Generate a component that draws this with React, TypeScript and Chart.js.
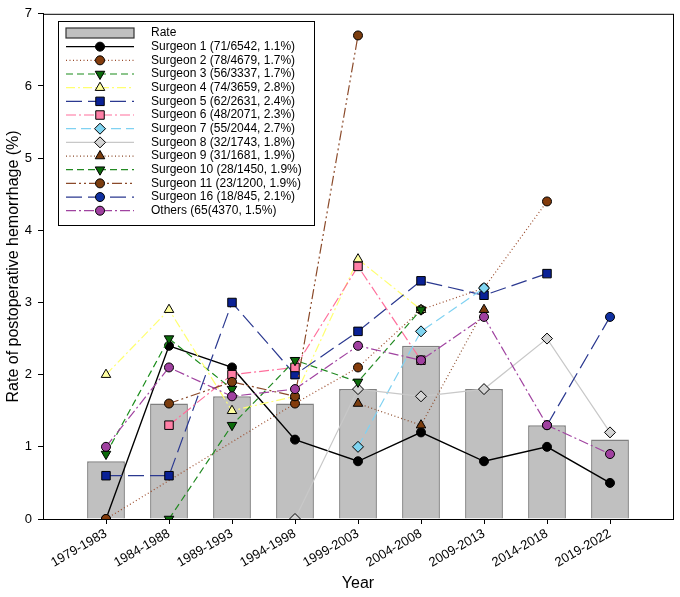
import { useEffect, useRef } from "react";
import { Chart, registerables, type Plugin } from "chart.js";
import { drawPoint } from "chart.js/helpers";

Chart.register(...registerables);

// 期間（x軸）
const YEARS = [
  "1979-1983",
  "1984-1988",
  "1989-1993",
  "1994-1998",
  "1999-2003",
  "2004-2008",
  "2009-2013",
  "2014-2018",
  "2019-2022",
];

// 棒：全体の出血率 (%)
const RATE = [0.8, 1.6, 1.7, 1.6, 1.8, 2.4, 1.8, 1.3, 1.1];

// 術者ごとの出血率 (%)、null はその期間のデータなし
const SURGEON_1 = [0, 2.4, 2.1, 1.1, 0.8, 1.2, 0.8, 1.0, 0.5];
const SURGEON_2 = [0, null, null, 1.6, 2.1, 2.9, 3.2, 4.4, null];
const SURGEON_3 = [0.9, 2.5, 1.8, null, null, null, null, null, null];
const SURGEON_4 = [2.0, 2.9, 1.5, 1.7, 3.6, 2.9, null, null, null];
const SURGEON_5 = [0.6, 0.6, 3.0, 2.0, 2.6, 3.3, 3.1, 3.4, null];
const SURGEON_6 = [null, 1.3, 2.0, 2.1, 3.5, 2.2, null, null, null];
const SURGEON_7 = [null, null, null, null, 1.0, 2.6, 3.2, null, null];
const SURGEON_8 = [null, null, null, 0, 1.8, 1.7, 1.8, 2.5, 1.2];
const SURGEON_9 = [null, null, null, null, 1.6, 1.3, 2.9, null, null];
const SURGEON_10 = [null, 0, 1.3, 2.2, 1.9, 2.9, null, null, null];
const SURGEON_11 = [null, 1.6, 1.9, 1.7, 6.7, null, null, null, null];
const SURGEON_16 = [null, null, null, null, null, null, null, 1.3, 2.8];
const OTHERS = [1.0, 2.1, 1.7, 1.8, 2.4, 2.2, 2.8, 1.3, 0.9];

const Y_TICKS = [0, 1, 2, 3, 4, 5, 6, 7];

const FONT = "Arial, 'Liberation Sans', sans-serif";

type LineSpec = {
  label: string;
  values: (number | null)[];
  line: string;
  fill: string;
  dash: number[];
  style: "circle" | "triangle" | "rect" | "rectRot";
  rotation?: number;
  radius: number;
  width?: number;
};

const LINES: LineSpec[] = [
  { label: "Surgeon 1 (71/6542, 1.1%)", values: SURGEON_1, line: "#000000", fill: "#000000", dash: [], style: "circle", radius: 4.5, width: 1.4 },
  { label: "Surgeon 2 (78/4679, 1.7%)", values: SURGEON_2, line: "#9a4a2a", fill: "#843c0c", dash: [1, 2.5], style: "circle", radius: 4.5 },
  { label: "Surgeon 3 (56/3337, 1.7%)", values: SURGEON_3, line: "#1a8c1a", fill: "#0b6b0b", dash: [7, 4], style: "triangle", rotation: 180, radius: 5.5 },
  { label: "Surgeon 4 (74/3659, 2.8%)", values: SURGEON_4, line: "#ffff70", fill: "#ffffa0", dash: [9, 3, 2, 3], style: "triangle", radius: 5.5 },
  { label: "Surgeon 5 (62/2631, 2.4%)", values: SURGEON_5, line: "#2b3990", fill: "#0a2196", dash: [16, 6], style: "rect", radius: 6 },
  { label: "Surgeon 6 (48/2071, 2.3%)", values: SURGEON_6, line: "#ff6f9c", fill: "#ff7fa6", dash: [10, 3, 2, 3], style: "rect", radius: 6 },
  { label: "Surgeon 7 (55/2044, 2.7%)", values: SURGEON_7, line: "#80d2f2", fill: "#80d4f0", dash: [10, 5], style: "rectRot", radius: 5.5 },
  { label: "Surgeon 8 (32/1743, 1.8%)", values: SURGEON_8, line: "#c8c8c8", fill: "#d4d4d4", dash: [], style: "rectRot", radius: 5.5 },
  { label: "Surgeon 9 (31/1681, 1.9%)", values: SURGEON_9, line: "#8b4a2a", fill: "#7b3d0f", dash: [1, 2.5], style: "triangle", radius: 5.5 },
  { label: "Surgeon 10 (28/1450, 1.9%)", values: SURGEON_10, line: "#238a23", fill: "#0b6b0b", dash: [7, 4], style: "triangle", rotation: 180, radius: 5.5 },
  { label: "Surgeon 11 (23/1200, 1.9%)", values: SURGEON_11, line: "#8b4a2a", fill: "#7b3d0f", dash: [10, 3, 2, 3, 2, 3], style: "circle", radius: 4.5 },
  { label: "Surgeon 16 (18/845, 2.1%)", values: SURGEON_16, line: "#2b3990", fill: "#1030a0", dash: [16, 6], style: "circle", radius: 4.5 },
  { label: "Others (65(4370, 1.5%)", values: OTHERS, line: "#a043a0", fill: "#a040a0", dash: [10, 3, 2, 3], style: "circle", radius: 4.5 },
];

function toPoints(values: (number | null)[]) {
  const pts: { x: number; y: number }[] = [];
  values.forEach((v, i) => {
    if (v !== null) pts.push({ x: i, y: v });
  });
  return pts;
}

// 枠線（上・右）と凡例
const framePlugin: Plugin<"bar"> = {
  id: "frame",
  afterDraw(chart) {
    const { ctx, chartArea } = chart;
    ctx.save();
    ctx.strokeStyle = "#000";
    ctx.lineWidth = 1;
    ctx.strokeRect(chartArea.left + 0.5, chartArea.top + 0.5, chartArea.right - chartArea.left, chartArea.bottom - chartArea.top);

    // 凡例
    const bx = 58, by = 21, bw = 256, bh = 204;
    ctx.fillStyle = "#fff";
    ctx.fillRect(bx, by, bw, bh);
    ctx.strokeRect(bx + 0.5, by + 0.5, bw, bh);

    const x0 = 66, x1 = 134, xm = 100, tx = 151;
    const rowY = (i: number) => 33 + i * 13.67;
    ctx.font = `12px ${FONT}`;
    ctx.textBaseline = "middle";
    ctx.textAlign = "left";

    ctx.fillStyle = "#c0c0c0";
    ctx.fillRect(x0, 28, x1 - x0, 10);
    ctx.strokeStyle = "#333";
    ctx.lineWidth = 1.2;
    ctx.strokeRect(x0, 28, x1 - x0, 10);
    ctx.fillStyle = "#000";
    ctx.fillText("Rate", tx, rowY(0));

    LINES.forEach((s, i) => {
      const y = rowY(i + 1);
      ctx.save();
      ctx.strokeStyle = s.line;
      ctx.lineWidth = s.width ?? 1.2;
      ctx.setLineDash(s.dash);
      ctx.beginPath();
      ctx.moveTo(x0, y);
      ctx.lineTo(x1, y);
      ctx.stroke();
      ctx.restore();

      ctx.save();
      ctx.fillStyle = s.fill;
      ctx.strokeStyle = "#000";
      ctx.lineWidth = 1;
      drawPoint(ctx, { pointStyle: s.style, rotation: s.rotation ?? 0, radius: s.radius, borderWidth: 1 }, xm, y);
      ctx.restore();

      ctx.fillStyle = "#000";
      ctx.fillText(s.label, tx, y);
    });
    ctx.restore();
  },
};

export default function App() {
  const canvasRef = useRef<HTMLCanvasElement>(null);

  useEffect(() => {
    const canvas = canvasRef.current;
    if (!canvas) return;
    Chart.defaults.font.family = FONT;
    Chart.defaults.color = "#000";

    const n = LINES.length;
    const chart = new Chart(canvas, {
      type: "bar",
      data: {
        datasets: [
          {
            type: "bar",
            label: "Rate",
            data: toPoints(RATE),
            backgroundColor: "#c0c0c0",
            borderColor: "#808080",
            borderWidth: 1.5,
            barPercentage: 0.6,
            categoryPercentage: 1,
            order: 100,
          } as any,
          ...LINES.map((s, i) => ({
            type: "line" as const,
            label: s.label,
            data: toPoints(s.values),
            borderColor: s.line,
            borderWidth: s.width ?? 1.2,
            borderDash: s.dash,
            backgroundColor: s.fill,
            pointStyle: s.style,
            pointRotation: s.rotation ?? 0,
            pointRadius: s.radius,
            pointBackgroundColor: s.fill,
            pointBorderColor: "#000",
            pointBorderWidth: 1,
            tension: 0,
            fill: false,
            spanGaps: true,
            order: n - i,
          })),
        ],
      },
      options: {
        responsive: false,
        animation: false,
        events: [],
        layout: { padding: { top: 7, right: 3, left: 0, bottom: 0 } },
        plugins: {
          legend: { display: false },
          tooltip: { enabled: false },
        },
        scales: {
          x: {
            type: "linear",
            min: -1,
            max: 9,
            offset: false,
            afterBuildTicks: (scale) => {
              scale.ticks = YEARS.map((_, i) => ({ value: i }));
            },
            afterFit: (scale) => {
              scale.height = 78;
            },
            ticks: {
              autoSkip: false,
              maxRotation: 30,
              minRotation: 30,
              padding: 2,
              font: { size: 13 },
              color: "#000",
              callback: (v) => YEARS[Number(v)] ?? "",
            },
            grid: { drawOnChartArea: false, drawTicks: true, tickLength: 5, color: "#000", offset: false },
            border: { color: "#000", width: 1 },
            title: { display: true, text: "Year", font: { size: 16 }, color: "#000", padding: { top: 0, bottom: 4 } },
          },
          y: {
            type: "linear",
            min: 0,
            max: 7,
            afterBuildTicks: (scale) => {
              scale.ticks = Y_TICKS.map((v) => ({ value: v }));
            },
            afterFit: (scale) => {
              scale.width = 43;
            },
            ticks: { padding: 6, font: { size: 13 }, color: "#000" },
            grid: { drawOnChartArea: false, drawTicks: true, tickLength: 5, color: "#000" },
            border: { color: "#000", width: 1 },
            title: {
              display: true,
              text: "Rate of postoperative hemorrhage (%)",
              font: { size: 16 },
              color: "#000",
              padding: { top: 4, bottom: 0 },
            },
          },
        },
      },
      plugins: [framePlugin],
    });
    return () => chart.destroy();
  }, []);

  return (
    <canvas
      ref={canvasRef}
      width={680}
      height={597}
      style={{ position: "absolute", left: 0, top: 0, background: "#fff" }}
    />
  );
}
